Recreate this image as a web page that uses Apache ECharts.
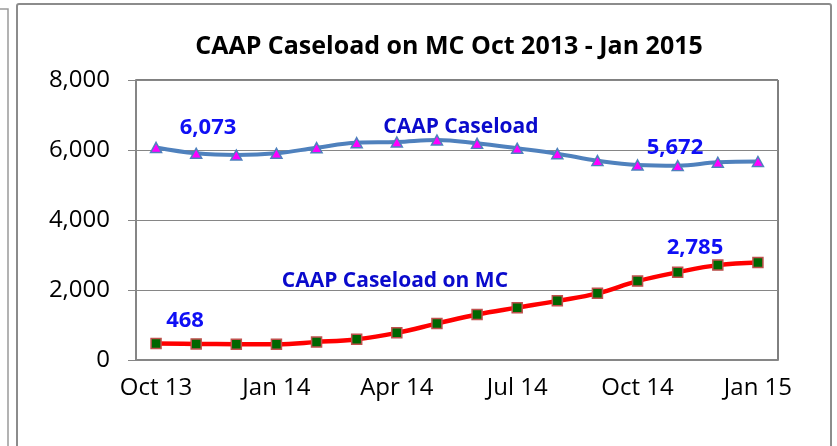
<!DOCTYPE html>
<html>
<head>
<meta charset="utf-8">
<script src="https://cdn.jsdelivr.net/npm/echarts@6/dist/echarts.min.js"></script>
<style>
  html, body { margin: 0; padding: 0; background: #fff; }
  #chart { width: 837px; height: 446px; }
</style>
</head>
<body>
<div id="chart"></div>
<script>
// months on the x axis
const months = ['Oct 13', 'Nov 13', 'Dec 13', 'Jan 14', 'Feb 14', 'Mar 14', 'Apr 14', 'May 14',
  'Jun 14', 'Jul 14', 'Aug 14', 'Sep 14', 'Oct 14', 'Nov 14', 'Dec 14', 'Jan 15']
// CAAP caseload (blue line)
const caapCaseload = [6073, 5906, 5857, 5906, 6066, 6208, 6228, 6285,
  6190, 6048, 5895, 5696, 5573, 5553, 5650, 5672]
// CAAP caseload on MC (red line)
const caapOnMC = [468, 460, 452, 452, 513, 595, 776, 1040,
  1300, 1496, 1690, 1904, 2254, 2507, 2711, 2785]
const yTicks = [0, 2000, 4000, 6000, 8000]

const fontFamily = '"Open Sans", "Noto Sans", sans-serif'
const fmt = v => Number(v).toLocaleString('en-US')

// text placed near a point, like the moved data labels in the original
function pointLabel (text, dx, dy, color, size) {
  return {
    show: true,
    position: 'inside',
    offset: [dx, dy],
    formatter: text,
    color: color,
    fontFamily: fontFamily,
    fontWeight: 'bold',
    fontSize: size
  }
}

const blueData = caapCaseload.map((v, i) => {
  const item = { value: v }
  if (i === 0) item.label = pointLabel(fmt(v), 52, -20, '#0f0ff5', 22)
  if (i === 7) item.label = pointLabel('CAAP Caseload', 24, -13, '#0a0acc', 21)
  if (i === months.length - 1) item.label = pointLabel(fmt(v), -83, -14, '#0f0ff5', 22)
  return item
})
const redData = caapOnMC.map((v, i) => {
  const item = { value: v }
  if (i === 0) item.label = pointLabel(fmt(v), 29, -23, '#0f0ff5', 22)
  if (i === 7) item.label = pointLabel('CAAP Caseload on MC', -42, -43, '#0a0acc', 21)
  if (i === months.length - 1) item.label = pointLabel(fmt(v), -63, -15, '#0f0ff5', 22)
  return item
})

const chart = echarts.init(document.getElementById('chart'))
chart.setOption({
  animation: false,
  graphic: [
    // edge of the neighbouring chart
    { type: 'rect', shape: { x: -20, y: 9, width: 28, height: 460 }, style: { fill: 'none', stroke: '#9a9a9a', lineWidth: 1.5 } },
    // chart area border
    { type: 'rect', shape: { x: 17, y: 4, width: 814, height: 460, r: 2 }, style: { fill: 'none', stroke: '#8c8c8c', lineWidth: 2 } },
    {
      type: 'text',
      x: 449,
      y: 47,
      style: {
        text: 'CAAP Caseload on MC Oct 2013 - Jan 2015',
        font: 'bold 25px ' + fontFamily,
        fill: '#000',
        align: 'center',
        verticalAlign: 'middle'
      }
    }
  ],
  grid: {
    left: 136,
    right: 59,
    top: 80,
    bottom: 86,
    show: true,
    borderColor: '#000',
    borderWidth: 1
  },
  xAxis: {
    type: 'category',
    data: months,
    boundaryGap: true,
    axisLine: { lineStyle: { color: '#868686', width: 2 } },
    axisTick: { interval: 2, length: 8, lineStyle: { color: '#868686' } },
    axisLabel: { interval: 2, color: '#000', fontFamily: fontFamily, fontSize: 24, margin: 16 }
  },
  yAxis: {
    type: 'value',
    min: yTicks[0],
    max: yTicks[yTicks.length - 1],
    interval: yTicks[1] - yTicks[0],
    axisLine: { show: true, lineStyle: { color: '#868686', width: 2 } },
    axisTick: { show: true, length: 8, lineStyle: { color: '#868686' } },
    splitLine: { lineStyle: { color: '#868686', width: 1 } },
    axisLabel: { color: '#000', fontFamily: fontFamily, fontSize: 24, margin: 26, formatter: fmt }
  },
  series: [
    {
      name: 'CAAP Caseload',
      type: 'line',
      data: blueData,
      smooth: 0.4,
      symbol: 'triangle',
      symbolSize: [11, 10],
      lineStyle: { color: '#4f81bd', width: 4 },
      itemStyle: { color: '#ff00ff', borderColor: '#4f81bd', borderWidth: 1.5 },
      z: 3
    },
    {
      name: 'CAAP Caseload on MC',
      type: 'line',
      data: redData,
      smooth: 0.4,
      symbol: 'rect',
      symbolSize: 10,
      lineStyle: { color: '#ff0000', width: 4.5 },
      itemStyle: { color: '#006600', borderColor: '#c0504d', borderWidth: 1.5 },
      z: 3
    }
  ]
})
</script>
</body>
</html>
